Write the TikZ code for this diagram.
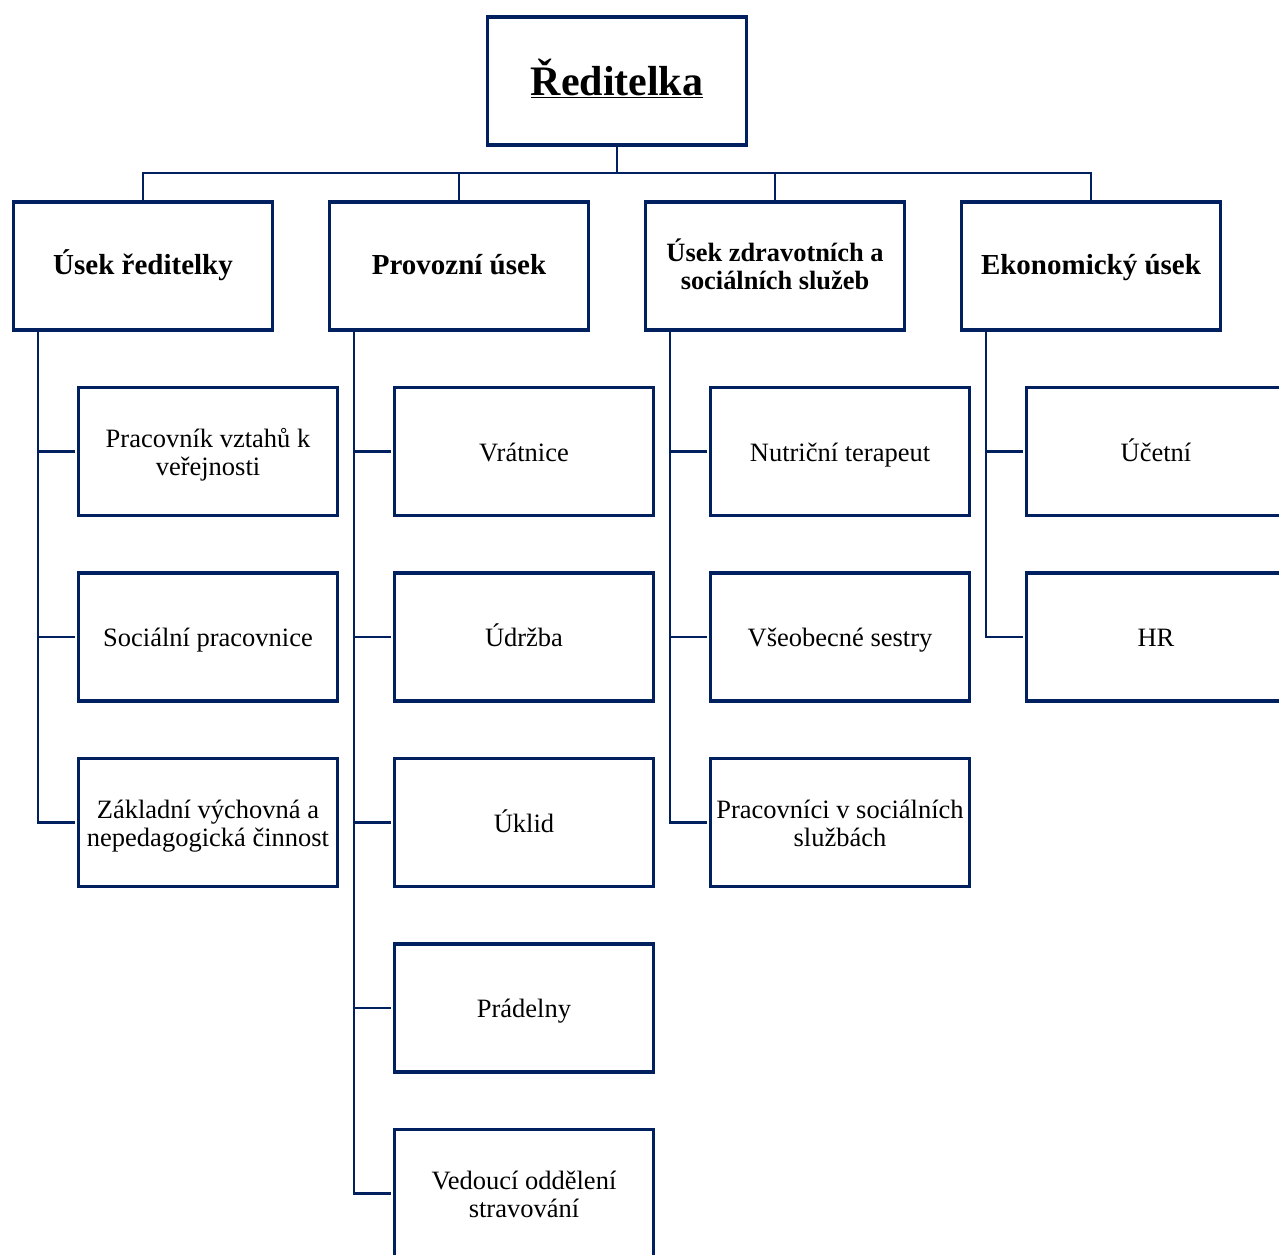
\documentclass[tikz,border=0pt]{standalone}
\usepackage{fontspec}
\setmainfont{Liberation Serif}
\definecolor{navy}{RGB}{0,32,96}
\newcommand{\mktwo}[3]{\begin{tabular}{@{}c@{}}\rule{0pt}{#1}#2\\#3\end{tabular}}
\begin{document}
\begin{tikzpicture}[x=1pt,y=-1pt,
  box/.style={draw=navy,line width=3.4pt,fill=white,minimum width=259pt,minimum height=128pt,inner sep=0pt,align=center},
  lvltwo/.style={box,font=\fontsize{29}{28}\selectfont\bfseries,
    execute at begin node={\rule{0pt}{25pt}}, execute at end node=\strut},
  lvlthree/.style={box,font=\fontsize{26.5}{28}\selectfont,
    execute at begin node={\rule{0pt}{27.6pt}}, execute at end node=\strut},
  twothree/.style={box,font=\fontsize{26.5}{28}\selectfont},
  conn/.style={draw=navy,line width=2.4pt}]
\clip (0,0) rectangle (1279,1254);
\fill[white] (0,0) rectangle (1279,1254);
\coordinate (bus) at (617,173);
\node[box,font=\fontsize{42}{44}\selectfont\bfseries,text height=38pt,text depth=10pt] (root) at (617,81) {\underline{Ředitelka}};
\node[lvltwo] (uA) at (143,266) {Úsek ředitelky};
\node[lvltwo] (uB) at (459,266) {Provozní úsek};
\node[box,font=\fontsize{26.4}{28}\selectfont\bfseries] (uC) at (775,266) {\mktwo{27.6pt}{Úsek zdravotních a}{sociálních služeb}};
\node[lvltwo] (uD) at (1091,266) {Ekonomický úsek};

\node[twothree] (a1) at (208,451.5) {\mktwo{27.6pt}{Pracovník vztahů k}{veřejnosti}};
\node[lvlthree] (a2) at (208,637) {Sociální pracovnice};
\node[twothree] (a3) at (208,822.5) {\mktwo{27.6pt}{Základní výchovná a}{nepedagogická činnost}};

\node[lvlthree] (b1) at (524,451.5) {Vrátnice};
\node[lvlthree] (b2) at (524,637) {Údržba};
\node[lvlthree] (b3) at (524,822.5) {Úklid};
\node[lvlthree] (b4) at (524,1008) {Prádelny};
\node[twothree] (b5) at (524,1193.5) {\mktwo{27.6pt}{Vedoucí oddělení}{stravování}};

\node[lvlthree] (c1) at (840,451.5) {Nutriční terapeut};
\node[lvlthree] (c2) at (840,637) {Všeobecné sestry};
\node[twothree] (c3) at (840,822.5) {\mktwo{27.6pt}{Pracovníci v sociálních}{službách}};

\node[lvlthree] (d1) at (1156,451.5) {Účetní};
\node[lvlthree] (d2) at (1156,637) {HR};

\foreach \u in {uA,uB,uC,uD}{
  \draw[conn] ([yshift=1.7pt]root.south) -- (root.south |- bus) -| ([yshift=-1.7pt]\u.north);
}
\foreach \u/\c in {uA/a1,uA/a2,uA/a3,uB/b1,uB/b2,uB/b3,uB/b4,uB/b5,uC/c1,uC/c2,uC/c3,uD/d1,uD/d2}{
  \draw[conn] ([xshift=26pt,yshift=1.7pt]\u.south west) |- ([xshift=-1.7pt]\c.west);
}
\end{tikzpicture}
\end{document}
